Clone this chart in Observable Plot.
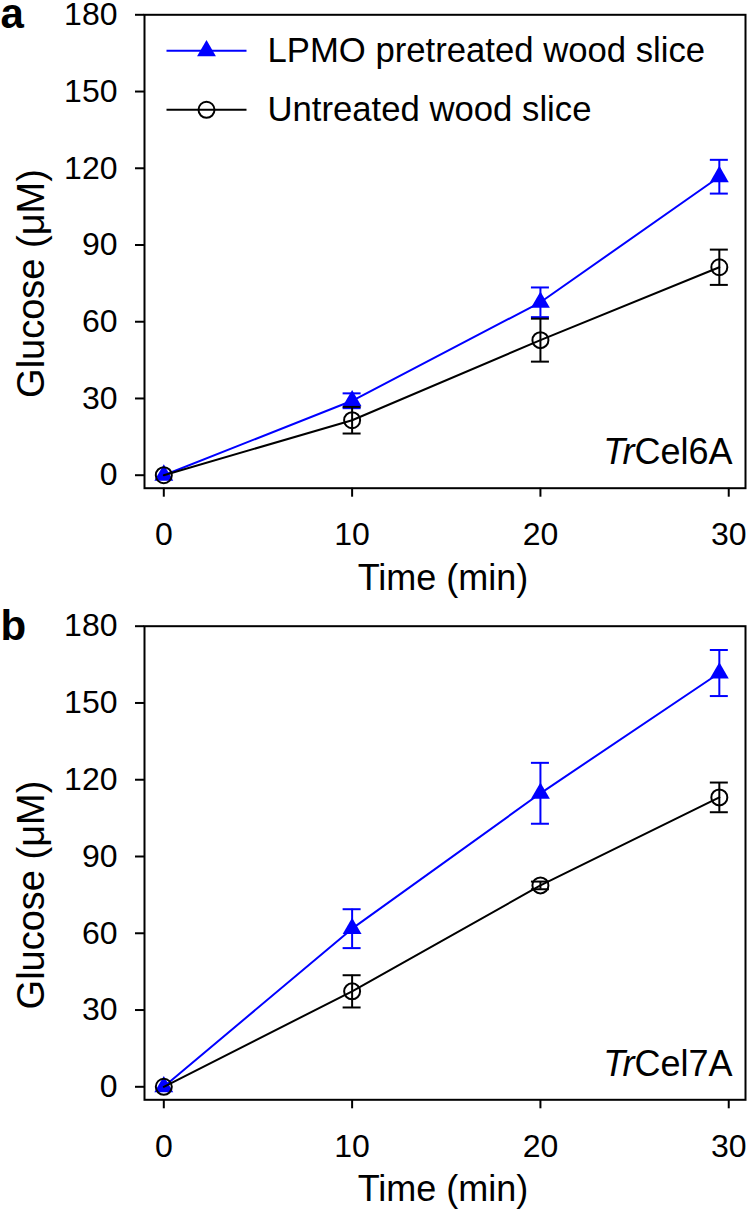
<!DOCTYPE html>
<html>
<head>
<meta charset="utf-8">
<script src="https://cdn.jsdelivr.net/npm/d3@7"></script>
<script src="https://cdn.jsdelivr.net/npm/@observablehq/plot@0.6"></script>
<style>
  html, body { margin: 0; padding: 0; background: #fff; }
  #chart { width: 748px; }
  #chart svg { display: block; overflow: visible; }
</style>
</head>
<body>
<div id="chart"></div>
<script>
// ---- data ----
const times = [0, 10, 20, 29.5];
const seriesNames = ["LPMO pretreated wood slice", "Untreated wood slice"];
const panelLetters = ["a", "b"];
const enzymePrefix = "Tr";
const enzymeNames = ["Cel6A", "Cel7A"];

// panel a (TrCel6A)
const aLPMO = [0, 29.1, 67.6, 116.7];
const aLPMOErr = [0, 2.9, 5.8, 6.6];
const aUntreated = [0, 21.5, 52.8, 81.3];
const aUntreatedErr = [0, 5.2, 8.4, 6.9];

// panel b (TrCel7A)
const bLPMO = [0, 61.8, 114.7, 161.7];
const bLPMOErr = [0, 7.6, 11.9, 9.0];
const bUntreated = [0, 37.3, 78.7, 113.1];
const bUntreatedErr = [0, 6.3, 1.5, 5.8];

const yTicks = [0, 30, 60, 90, 120, 150, 180];
const xTicks = [0, 10, 20, 30];
const xLabel = "Time (min)";
const yLabel = "Glucose (\u03bcM)";

// ---- drawing ----
const BLUE = "#0000ff";
const FONT = "'Liberation Sans', Arial, Helvetica, sans-serif";
const hline = (half) => ({ draw(ctx) { ctx.moveTo(-half, 0); ctx.lineTo(half, 0); } });

function rowsOf(values, errs, series) {
  return times.map((t, i) => ({ time: t, value: values[i], err: errs[i], series }));
}

function seriesMarks(rows, color, symbol, r, fill) {
  const withErr = rows.filter(d => d.err > 0);
  return [
    Plot.line(rows, { x: "time", y: "value", stroke: color, strokeWidth: 2 }),
    Plot.ruleX(withErr, { x: "time", y1: d => d.value - d.err, y2: d => d.value + d.err, stroke: color, strokeWidth: 2 }),
    Plot.ruleY(withErr, { y: d => d.value + d.err, x1: "time", x2: "time", insetLeft: -9, insetRight: -9, stroke: color, strokeWidth: 2 }),
    Plot.ruleY(withErr, { y: d => d.value - d.err, x1: "time", x2: "time", insetLeft: -9, insetRight: -9, stroke: color, strokeWidth: 2 }),
    Plot.dot(rows, { x: "time", y: "value", symbol, r, fill, stroke: fill === "none" ? color : "none", strokeWidth: 2 })
  ];
}

function makePanel({ letter, enzyme, lp, un, legend, marginTop, marginBottom, height }) {
  const marks = [
    Plot.axisY({ ticks: yTicks, tickSize: 9, tickPadding: 18, fontSize: 32, strokeWidth: 2, label: null }),
    Plot.axisX({ ticks: xTicks, tickSize: 9, tickPadding: 25, fontSize: 32, strokeWidth: 2, label: null }),
    ...seriesMarks(lp, BLUE, "triangle", 7, BLUE),
    ...seriesMarks(un, "black", "circle", 8, "none"),
    Plot.frame({ stroke: "black", strokeWidth: 2 }),
    Plot.text([enzymePrefix + enzyme], { frameAnchor: "bottom-right", dx: -13, dy: -24, textAnchor: "end", lineAnchor: "bottom", fontSize: 36 }),
    Plot.text([xLabel], { frameAnchor: "bottom", dx: -2, dy: 101.6, textAnchor: "middle", lineAnchor: "bottom", fontSize: 36 }),
    Plot.text([yLabel], { frameAnchor: "left", rotate: -90, dx: -100.5, dy: 32, textAnchor: "middle", lineAnchor: "bottom", fontSize: 38 }),
    Plot.text([letter], { frameAnchor: "top-left", dx: -144, dy: 13.5, textAnchor: "start", lineAnchor: "bottom", fontSize: 42, fontWeight: "bold" })
  ];
  if (legend) {
    const rowsY = [36, 95];
    const styles = [
      { color: BLUE, symbol: "triangle", r: 7, fill: BLUE },
      { color: "black", symbol: "circle", r: 8, fill: "none" }
    ];
    seriesNames.forEach((name, i) => {
      const s = styles[i];
      marks.push(
        Plot.dot([name], { frameAnchor: "top-left", dx: 62, dy: rowsY[i], symbol: hline(40), r: 5, fill: "none", stroke: s.color, strokeWidth: 2 }),
        Plot.dot([name], { frameAnchor: "top-left", dx: 62, dy: rowsY[i], symbol: s.symbol, r: s.r, fill: s.fill, stroke: s.fill === "none" ? s.color : "none", strokeWidth: 2 }),
        Plot.text([name], { frameAnchor: "top-left", dx: 123, dy: rowsY[i], textAnchor: "start", lineAnchor: "middle", fontSize: 34.7 })
      );
    });
  }
  const svg = Plot.plot({
    width: 748, height, marginLeft: 144, marginRight: 3, marginTop, marginBottom,
    style: { fontFamily: FONT, fontSize: "32px", color: "black", background: "white" },
    x: { domain: [-1.025, 30.89] },
    y: { domain: [-5.08, 180] },
    marks
  });
  // italic species prefix
  svg.querySelectorAll("text").forEach(t => {
    if (t.textContent === enzymePrefix + enzyme) {
      t.textContent = "";
      const ns = "http://www.w3.org/2000/svg";
      const it = document.createElementNS(ns, "tspan");
      it.setAttribute("font-style", "italic");
      it.textContent = enzymePrefix;
      const rest = document.createElementNS(ns, "tspan");
      rest.textContent = enzyme;
      t.appendChild(it);
      t.appendChild(rest);
    }
  });
  return svg;
}

const chart = document.getElementById("chart");
chart.appendChild(makePanel({
  letter: panelLetters[0], enzyme: enzymeNames[0],
  lp: rowsOf(aLPMO, aLPMOErr, seriesNames[0]),
  un: rowsOf(aUntreated, aUntreatedErr, seriesNames[1]),
  legend: true, marginTop: 14.3, marginBottom: 118.3, height: 606
}));
chart.appendChild(makePanel({
  letter: panelLetters[1], enzyme: enzymeNames[1],
  lp: rowsOf(bLPMO, bLPMOErr, seriesNames[0]),
  un: rowsOf(bUntreated, bUntreatedErr, seriesNames[1]),
  legend: false, marginTop: 19.7, marginBottom: 112.7, height: 606
}));
</script>
</body>
</html>
